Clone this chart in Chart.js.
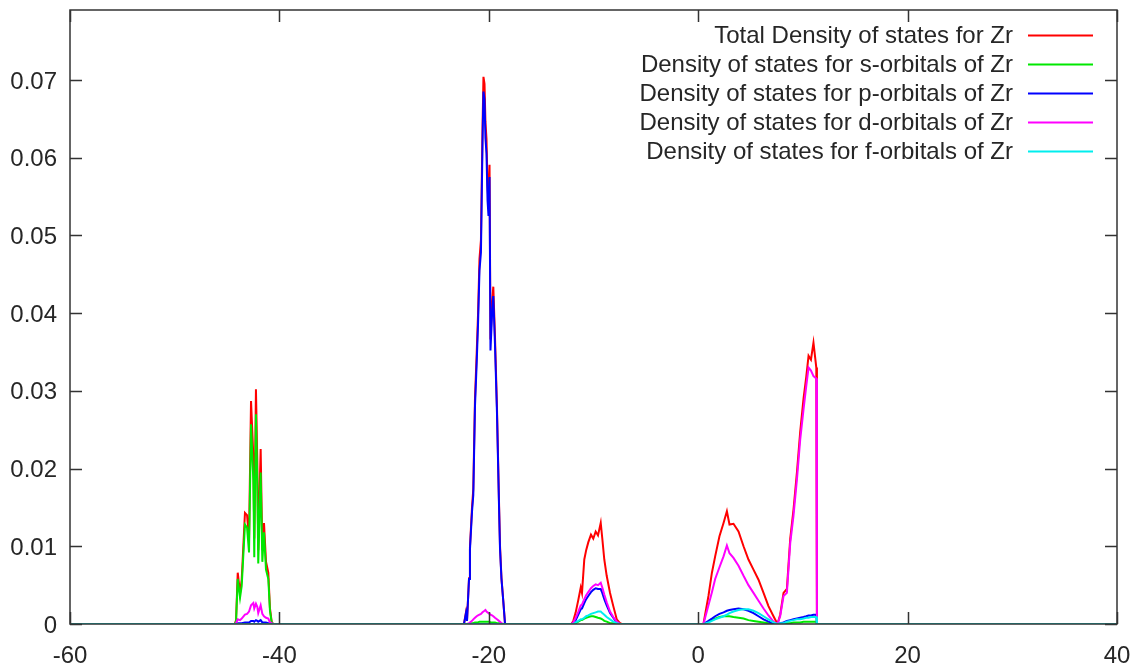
<!DOCTYPE html>
<html>
<head>
<meta charset="utf-8">
<title>Zr density of states</title>
<script src="https://cdn.jsdelivr.net/npm/chart.js@4.4.1/dist/chart.umd.min.js"></script>
<style>
  html, body { margin: 0; padding: 0; background: #fff; }
  canvas { display: block; }
</style>
</head>
<body>
<canvas id="dos-chart" width="1139" height="670"></canvas>
<script>
// Density of states for Zr, total and orbital projected (s, p, d, f)
// one energy grid shared by every series, one line per band

const energy = [-60,
  -44.25, -44.14, -43.98, -43.76, -43.60, -43.29, -43.09, -42.90, -42.71, -42.49, -42.40, -42.24, -42.11, -42.02, -41.79, -41.63, -41.47, -41.28, -41.06, -40.90, -40.74, -40.60,
  -22.37, -22.18, -22.08, -21.89, -21.80, -21.60, -21.48, -21.32, -21.16, -21.03, -20.89, -20.75, -20.60, -20.51, -20.41, -20.32, -20.22, -20.12, -20.03, -19.93, -19.84, -19.69, -19.57, -19.41, -19.22, -19.03, -18.93, -18.79, -18.62, -18.45,
  -12.10, -11.93, -11.70, -11.45, -11.22, -11.10, -10.88, -10.70, -10.50, -10.24, -10.02, -9.79, -9.57, -9.31, -9.16, -8.97, -8.74, -8.42, -8.11, -7.78, -7.47, -7.30,
  0.50, 0.98, 1.31, 1.62, 2.03, 2.42, 2.74, 2.99, 3.37, 3.85, 4.33, 4.80, 5.28, 5.76, 6.24, 6.71, 7.19, 7.57,
  7.83, 8.15, 8.47, 8.79, 9.10, 9.43, 9.74, 10.06, 10.32, 10.54, 10.77, 11.01, 11.28, 11.34,
  40];

const totalDos = [0,
  0, 0.0005, 0.0066, 0.0040, 0.0057, 0.0143, 0.0140, 0.0110, 0.0287, 0.0216, 0.0110, 0.0302, 0.0208, 0.0095, 0.0225, 0.0095, 0.0130, 0.0080, 0.0066, 0.0020, 0.0003, 0,
  0, 0.0015, 0.0005, 0.0059, 0.0099, 0.0151, 0.0174, 0.0290, 0.0347, 0.0398, 0.0470, 0.0494, 0.0638, 0.0704, 0.0695, 0.0646, 0.0624, 0.0563, 0.0542, 0.0591, 0.0366, 0.0411, 0.0434, 0.0370, 0.0279, 0.0160, 0.0101, 0.0059, 0.0030, 0,
  0, 0.0004, 0.0015, 0.0031, 0.0047, 0.0040, 0.0083, 0.0095, 0.0105, 0.0115, 0.0110, 0.0119, 0.0114, 0.0130, 0.0110, 0.0083, 0.0062, 0.0040, 0.0023, 0.0006, 0.0001, 0,
  0, 0.0036, 0.0066, 0.0087, 0.0113, 0.0130, 0.0145, 0.0128, 0.0129, 0.0119, 0.0100, 0.0083, 0.0070, 0.0057, 0.0040, 0.0023, 0.0010, 0,
  0.0012, 0.0040, 0.0045, 0.0110, 0.0147, 0.0195, 0.0247, 0.0290, 0.0318, 0.0345, 0.0340, 0.0362, 0.0330, 0,
  0];

const sDos = [0,
  0, 0.0004, 0.0058, 0.0034, 0.0049, 0.0128, 0.0124, 0.0092, 0.0257, 0.0185, 0.0086, 0.0270, 0.0182, 0.0078, 0.0195, 0.0080, 0.0118, 0.0070, 0.0058, 0.0017, 0.0002, 0,
  0, 0, 0, 0, 0.0001, 0.0001, 0.0001, 0.0002, 0.0002, 0.0002, 0.0003, 0.0003, 0.0003, 0.0003, 0.0003, 0.0003, 0.0003, 0.0003, 0.0003, 0.0003, 0.0002, 0.0002, 0.0002, 0.0002, 0.0001, 0.0001, 0.0001, 0, 0, 0,
  0, 0, 0.0001, 0.0003, 0.0005, 0.0005, 0.0007, 0.0008, 0.0009, 0.0010, 0.0010, 0.0009, 0.0008, 0.0007, 0.0006, 0.0004, 0.0003, 0.0001, 0.0001, 0, 0, 0,
  0, 0.0003, 0.0005, 0.0007, 0.0009, 0.0010, 0.0010, 0.0010, 0.0009, 0.0008, 0.0007, 0.0005, 0.0004, 0.0003, 0.0002, 0.0001, 0, 0,
  0, 0.0001, 0.0001, 0.0001, 0.0002, 0.0002, 0.0002, 0.0003, 0.0003, 0.0003, 0.0003, 0.0003, 0.0003, 0,
  0];

const pDos = [0,
  0, 0, 0.0001, 0.0001, 0.0001, 0.0002, 0.0002, 0.0002, 0.0004, 0.0004, 0.0003, 0.0005, 0.0004, 0.0003, 0.0005, 0.0002, 0.0002, 0.0002, 0.0001, 0, 0, 0,
  0, 0.0014, 0.0004, 0.0058, 0.0096, 0.0145, 0.0166, 0.0280, 0.0335, 0.0385, 0.0455, 0.0478, 0.0620, 0.0685, 0.0675, 0.0625, 0.0605, 0.0545, 0.0525, 0.0575, 0.0352, 0.0398, 0.0422, 0.0360, 0.0272, 0.0155, 0.0097, 0.0058, 0.0030, 0,
  0, 0.0001, 0.0005, 0.0012, 0.0019, 0.0020, 0.0027, 0.0032, 0.0036, 0.0041, 0.0044, 0.0046, 0.0045, 0.0045, 0.0040, 0.0032, 0.0024, 0.0014, 0.0008, 0.0002, 0, 0,
  0, 0.0004, 0.0007, 0.0010, 0.0013, 0.0015, 0.0017, 0.0018, 0.0019, 0.0020, 0.0019, 0.0017, 0.0014, 0.0010, 0.0006, 0.0003, 0.0001, 0,
  0.0001, 0.0002, 0.0004, 0.0005, 0.0006, 0.0007, 0.0008, 0.0009, 0.0010, 0.0011, 0.0011, 0.0012, 0.0012, 0,
  0];

const dDos = [0,
  0, 0.0001, 0.0006, 0.0005, 0.0007, 0.0012, 0.0013, 0.0016, 0.0024, 0.0027, 0.0020, 0.0026, 0.0022, 0.0014, 0.0024, 0.0013, 0.0010, 0.0008, 0.0007, 0.0002, 0.0001, 0,
  0, 0, 0, 0.0001, 0.0002, 0.0004, 0.0006, 0.0008, 0.0010, 0.0011, 0.0012, 0.0013, 0.0015, 0.0016, 0.0017, 0.0018, 0.0016, 0.0015, 0.0014, 0.0013, 0.0012, 0.0011, 0.0010, 0.0008, 0.0006, 0.0004, 0.0003, 0.0001, 0, 0,
  0, 0.0002, 0.0008, 0.0016, 0.0024, 0.0025, 0.0032, 0.0037, 0.0041, 0.0046, 0.0049, 0.0051, 0.0050, 0.0053, 0.0047, 0.0038, 0.0028, 0.0016, 0.0009, 0.0003, 0, 0,
  0, 0.0024, 0.0041, 0.0058, 0.0073, 0.0087, 0.0101, 0.0091, 0.0085, 0.0075, 0.0062, 0.0050, 0.0040, 0.0030, 0.0020, 0.0011, 0.0003, 0,
  0.0010, 0.0036, 0.0040, 0.0104, 0.0139, 0.0186, 0.0237, 0.0276, 0.0306, 0.0330, 0.0326, 0.0319, 0.0316, 0,
  0];

const fDos = [0,
  0, 0, 0, 0, 0, 0, 0, 0, 0, 0, 0, 0, 0, 0, 0, 0, 0, 0, 0, 0, 0, 0,
  0, 0, 0, 0, 0, 0, 0, 0, 0, 0, 0, 0, 0, 0, 0, 0, 0, 0, 0, 0, 0, 0, 0, 0, 0, 0, 0, 0, 0, 0,
  0, 0, 0.0002, 0.0004, 0.0006, 0.0006, 0.0008, 0.0010, 0.0011, 0.0013, 0.0014, 0.0015, 0.0016, 0.0016, 0.0014, 0.0012, 0.0009, 0.0006, 0.0003, 0.0001, 0, 0,
  0, 0.0002, 0.0004, 0.0006, 0.0008, 0.0010, 0.0012, 0.0014, 0.0016, 0.0018, 0.0019, 0.0019, 0.0017, 0.0014, 0.0010, 0.0006, 0.0002, 0,
  0.0001, 0.0001, 0.0003, 0.0004, 0.0005, 0.0006, 0.0006, 0.0007, 0.0008, 0.0008, 0.0009, 0.0009, 0.0009, 0,
  0];

const seriesLabels = [
  "Total Density of states for Zr",
  "Density of states for s-orbitals of Zr",
  "Density of states for p-orbitals of Zr",
  "Density of states for d-orbitals of Zr",
  "Density of states for f-orbitals of Zr"
];
const seriesColors = ["#ff0000", "#00e800", "#0000ff", "#ff00ff", "#00eeee"];

const xTicks = [-60, -40, -20, 0, 20, 40];
const xTickLabels = ["-60", "-40", "-20", "0", "20", "40"];
const yTicks = [0, 0.01, 0.02, 0.03, 0.04, 0.05, 0.06, 0.07];
const yTickLabels = ["0", "0.01", "0.02", "0.03", "0.04", "0.05", "0.06", "0.07"];

const FONT = '24px "Liberation Sans", Arial, sans-serif';
const TICK_LEN = 12;

function toPoints(values) {
    return energy.map((e, i) => ({ x: e, y: values[i] }));
}

// border, inward ticks on all four sides, tick labels and the key
const gnuplotFrame = {
    id: 'gnuplotFrame',
    afterDraw(chart) {
        const ctx = chart.ctx;
        const area = chart.chartArea;
        const xs = chart.scales.x;
        const ys = chart.scales.y;
        ctx.save();
        ctx.strokeStyle = '#333';
        ctx.lineWidth = 1.5;
        ctx.strokeRect(area.left, area.top, area.right - area.left, area.bottom - area.top);

        ctx.beginPath();
        for (let i = 0; i < xTicks.length; i++) {
            const px = Math.round(xs.getPixelForValue(xTicks[i])) + 0.5;
            ctx.moveTo(px, area.bottom);
            ctx.lineTo(px, area.bottom - TICK_LEN);
            ctx.moveTo(px, area.top);
            ctx.lineTo(px, area.top + TICK_LEN);
        }
        for (let i = 0; i < yTicks.length; i++) {
            const py = Math.round(ys.getPixelForValue(yTicks[i])) + 0.5;
            ctx.moveTo(area.left, py);
            ctx.lineTo(area.left + TICK_LEN, py);
            ctx.moveTo(area.right, py);
            ctx.lineTo(area.right - TICK_LEN, py);
        }
        ctx.stroke();

        ctx.fillStyle = '#262626';
        ctx.font = FONT;
        ctx.textBaseline = 'middle';
        ctx.textAlign = 'center';
        for (let i = 0; i < xTicks.length; i++) {
            ctx.fillText(xTickLabels[i], xs.getPixelForValue(xTicks[i]), area.bottom + 32);
        }
        ctx.textAlign = 'right';
        for (let i = 0; i < yTicks.length; i++) {
            ctx.fillText(yTickLabels[i], area.left - 13, ys.getPixelForValue(yTicks[i]) + 2);
        }

        // key: right aligned text with a line sample after it
        const keyRight = 1013;
        chart.data.datasets.forEach((ds, i) => {
            const y = 35 + i * 29;
            ctx.fillStyle = '#262626';
            ctx.fillText(ds.label, keyRight, y + 1);
            ctx.strokeStyle = ds.borderColor;
            ctx.lineWidth = 2;
            ctx.beginPath();
            ctx.moveTo(1028, y + 0.5);
            ctx.lineTo(1093, y + 0.5);
            ctx.stroke();
        });
        ctx.restore();
    }
};

function createDosChart() {
    const canvas = document.getElementById('dos-chart');
    const allSeries = [totalDos, sDos, pDos, dDos, fDos];
    const datasets = allSeries.map((values, i) => ({
        label: seriesLabels[i],
        data: toPoints(values),
        borderColor: seriesColors[i],
        backgroundColor: seriesColors[i],
        borderWidth: 2,
        pointRadius: 0,
        showLine: true,
        tension: 0,
        order: allSeries.length - 1 - i
    }));

    new Chart(canvas, {
        type: 'scatter',
        data: { datasets: datasets },
        plugins: [gnuplotFrame],
        options: {
            responsive: false,
            animation: false,
            devicePixelRatio: 1,
            layout: { padding: { left: 70, top: 10, right: 22, bottom: 46 } },
            scales: {
                x: { type: 'linear', min: -60, max: 40, display: false },
                y: { type: 'linear', min: 0, max: 0.079, display: false }
            },
            plugins: {
                legend: { display: false },
                tooltip: { enabled: false }
            }
        }
    });
}

createDosChart();
</script>
</body>
</html>
